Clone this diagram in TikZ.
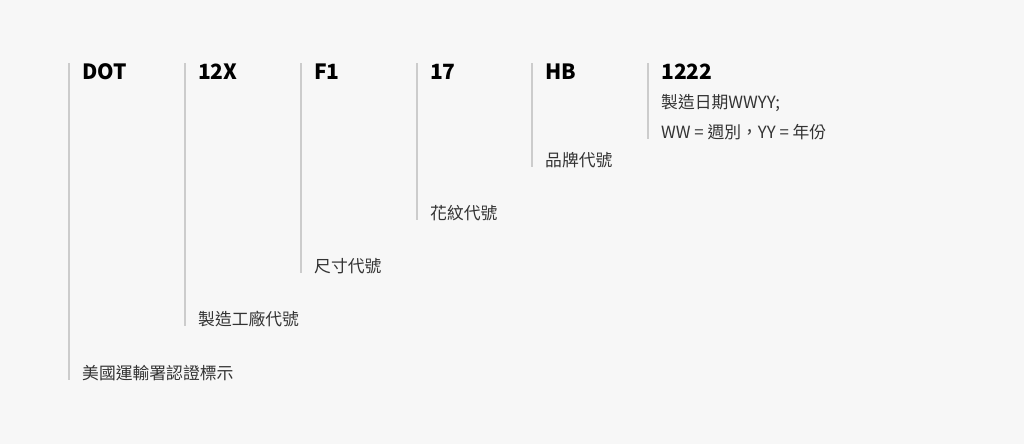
\documentclass[tikz,border=0pt]{standalone}
\usepackage{fontspec}
\setmainfont{Noto Sans CJK TC}
\definecolor{bgcol}{HTML}{F7F7F7}
\definecolor{sepcol}{HTML}{CCCCCC}
\definecolor{labcol}{HTML}{333333}
\tikzset{
sep/.style={draw=sepcol, line width=1.5pt},
code/.style={inner sep=0pt, anchor=base west, font=\fontsize{21}{21}\selectfont\bfseries, text=black},
lab/.style={inner sep=0pt, anchor=west, font=\fontsize{16.8}{16.8}\selectfont, text=labcol}
}
\begin{document}
\begin{tikzpicture}[x=1pt,y=-1pt]
\fill[bgcol] (0,0) rectangle (1024,444);
\useasboundingbox (0,0) rectangle (1024,444);
\foreach \x/\code/\bot/\lab [count=\i] in {69/DOT/380/美國運輸署認證標示, 185/12X/326/製造工廠代號, 301/F1/273/尺寸代號, 417/17/220/花紋代號, 532/HB/167/品牌代號}
{
\coordinate (top\i) at (\x,63);
\coordinate (bot\i) at (\x,\bot);
\draw[sep] (top\i) -- (bot\i);
\node[code] (code\i) at (\x+13,79) {\code};
\node[lab] (lab\i) at (\x+13,\bot-7) {\lab};
}
\coordinate (top6) at (648,63);
\coordinate (bot6) at (648,139);
\draw[sep] (top6) -- (bot6);
\node[code] (code6) at (661,79) {1222};
\node[lab] (lab6a) at (661,103) {製造日期WWYY;};
\node[lab] (lab6b) at (661,132) {WW = 週別，YY = 年份};
\end{tikzpicture}
\end{document}
